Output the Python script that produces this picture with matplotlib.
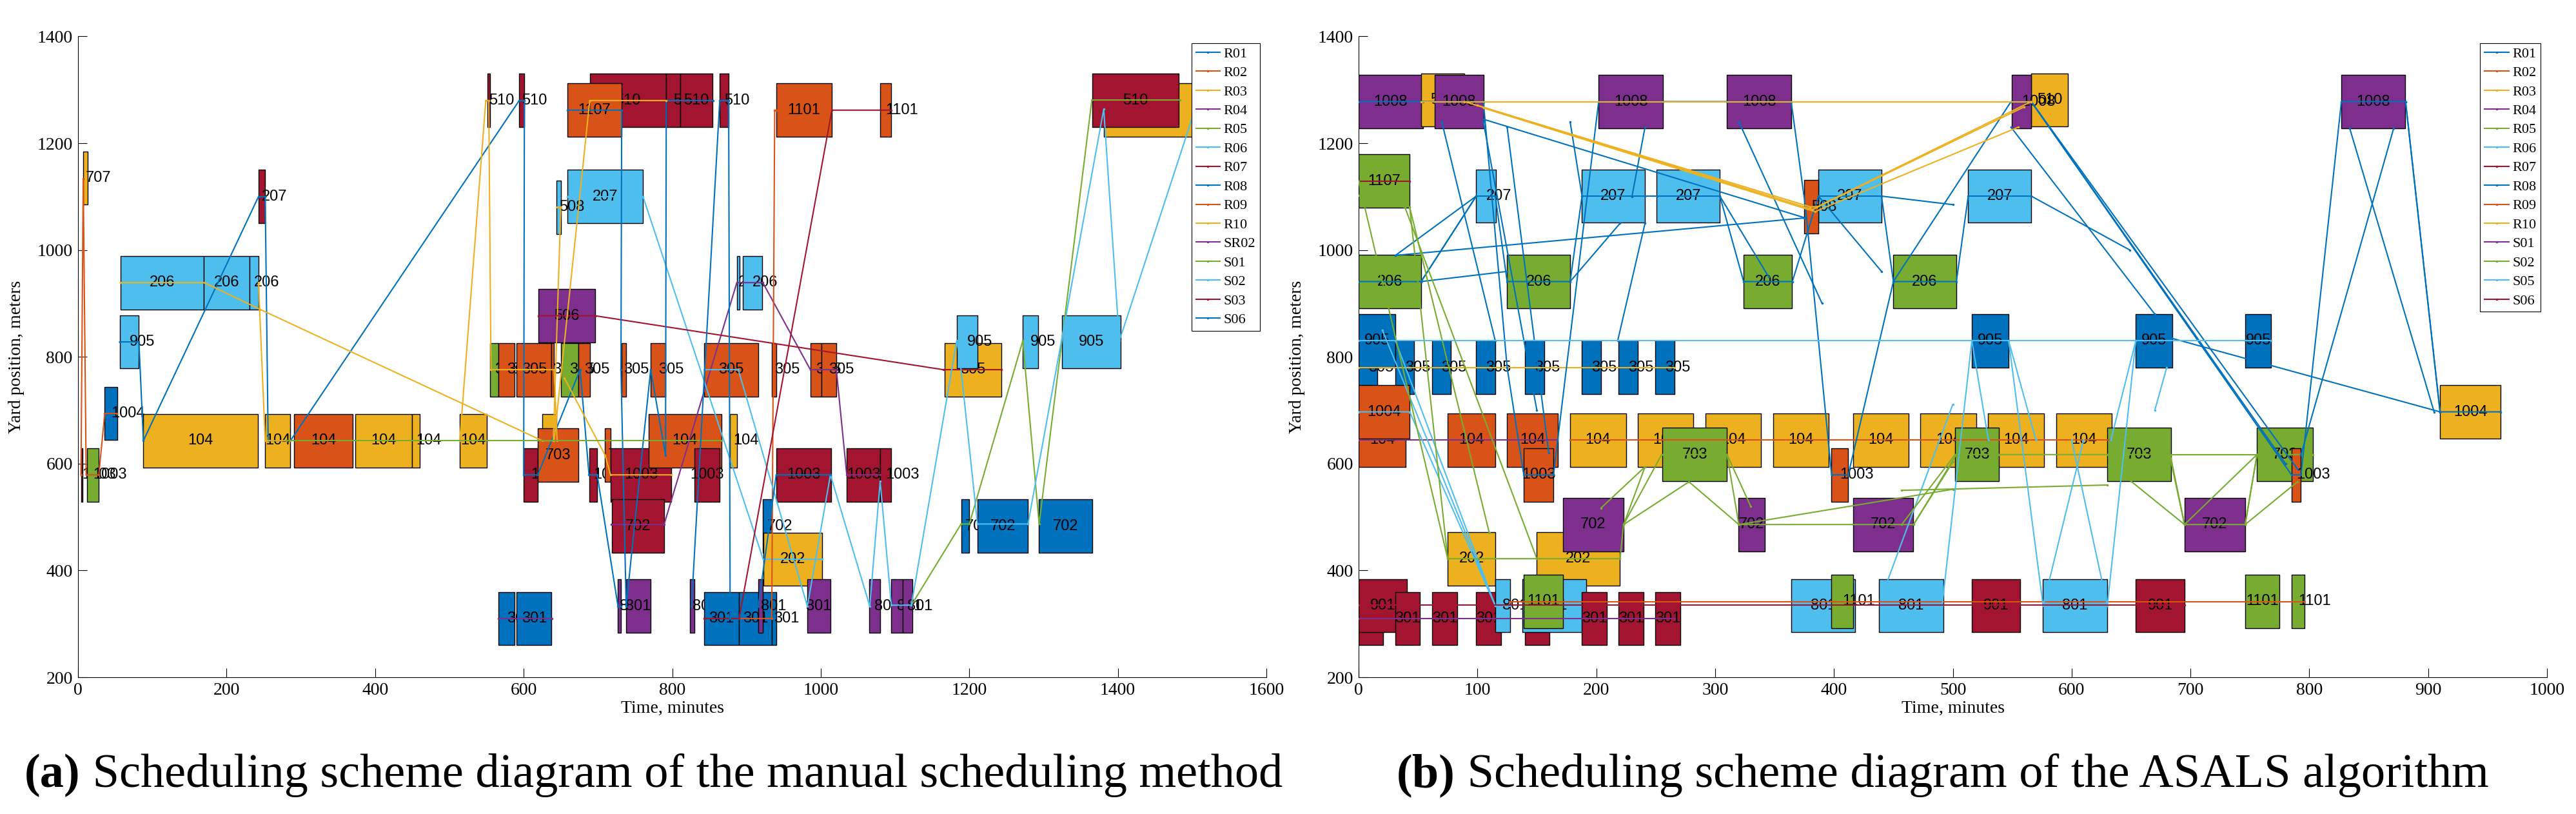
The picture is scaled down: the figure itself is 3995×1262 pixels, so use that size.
import matplotlib
matplotlib.use('Agg')
import matplotlib.pyplot as plt
from matplotlib.lines import Line2D

plt.rcParams['font.family'] = ['Liberation Serif', 'DejaVu Serif']

COLOURS = ['#0072BD', '#D95319', '#EDB120', '#7E2F8E', '#77AC30', '#4DBEEE', '#A2142F']

# ---------------- (a) manual scheduling ----------------
left_levels = {'510': 1280, '1107': 1262, '1101': 1262, '707': 1135, '207': 1100,
               '508': 1080, '206': 939, '506': 877, '905': 828, '305': 776,
               '1004': 694, '104': 643, '703': 616, '1003': 579, '702': 483,
               '202': 421, '801': 333, '301': 310}

left_track = ['707', '1003', '1003', '1004', '905', '206', '206', '206', '207',
              '104', '104', '104', '104', '104', '104', '510', '305', '305', '301',
              '301', '305', '305', '510', '1003', '104', '703', '506', '305',
              '305', '510', '510', '510', '510', '1107', '207', '508', '1003', '703', '1003',
              '702', '305', '801', '801', '104', '305', '801', '1003', '305', '301',
              '301', '301', '104', '206', '206', '801', '702', '202', '305', '1003',
              '1101', '801', '305', '305', '1003', '1003', '801', '1101', '801', '801',
              '305', '905', '702', '702', '905', '702', '905', '1101', '510']
left_start = [7, 4.5, 12, 36, 56, 57.5, 169.6, 231, 243,
              88, 252, 291, 373, 450, 514, 551, 555, 566, 566,
              590.7, 590.6, 637.5, 594, 600, 625, 619, 620, 650,
              674, 689, 792, 811, 864, 659, 659, 644.6, 688.7, 709.6, 717,
              719, 731.5, 727, 738, 768, 771, 824, 829.6, 843, 843,
              890, 934, 877.6, 887, 895, 916, 921.8, 922.5, 934, 940,
              940.5, 982, 986.5, 1000.7, 1035, 1080, 1065, 1080, 1094.5, 1110,
              1167, 1183, 1189, 1211, 1271.6, 1293.5, 1324.7, 1381, 1365.5]
left_end = [13, 6.5, 28, 53, 82, 169.6, 231, 243, 252,
            242, 286, 370, 450, 460, 550, 555, 566, 588, 588,
            637.6, 637.5, 641, 601, 619, 644, 674, 696.5, 674,
            689, 792, 811, 854.5, 876, 732, 760.7, 650.4, 698.7, 717, 799,
            789, 738, 731, 771, 866, 791, 830, 864, 916, 890,
            934, 940, 887, 891, 921.5, 922, 934, 1002, 940.5, 1013.6,
            1014.5, 1013, 1000.7, 1021, 1080, 1095, 1080, 1095, 1110, 1123,
            1243, 1211.5, 1200, 1279, 1293, 1365.5, 1403.6, 1504, 1481.6]
left_colour = [2, 6, 4, 0, 5, 5, 5, 5, 6,
               2, 2, 1, 2, 2, 2, 6, 4, 1, 0,
               0, 1, 1, 6, 6, 2, 1, 3, 4,
               1, 6, 6, 6, 6, 1, 5, 5, 6, 1, 6,
               6, 1, 3, 3, 1, 1, 3, 6, 1, 0,
               0, 0, 2, 5, 5, 3, 0, 2, 1, 6,
               1, 3, 1, 1, 6, 6, 3, 1, 3, 3,
               2, 5, 0, 0, 5, 0, 5, 2, 6]

left_names = ['R01', 'R02', 'R03', 'R04', 'R05', 'R06', 'R07', 'R08', 'R09', 'R10',
              'SR02', 'S01', 'S02', 'S03', 'S06']
left_runs = {
    'R01': [[(56, 828), (82, 828), (88, 643), (243, 1100), (252, 1100), (256, 643), (286, 643),
             (594, 1280), (601, 1280), (600, 579), (619, 579), (676, 776), (688, 579),
             (699, 579), (727, 333), (731, 333)]],
    'R02': [[(4, 579), (7, 1134), (11, 579), (28, 579), (36, 694), (52, 694)]],
    'R03': [[(57, 939), (170, 939), (245, 889), (625, 643), (641, 643)],
            [(645, 1080), (650, 1080), (640, 643)]],
    'R04': [[(718, 486), (789, 486), (887, 939), (922, 939), (986, 776), (1021, 776),
             (1035, 579), (1080, 579)]],
    'R05': [[(1122, 335), (1189, 487), (1200, 487), (1272, 830), (1294, 487), (1365, 1281),
             (1484, 1281)]],
    'R06': [[(659, 1100), (760.7, 1100), (922.5, 421), (1002, 421)]],
    'R07': [[(620, 877), (696, 877), (1165, 776), (1243, 776)]],
    'R08': [[(659, 1262), (732, 1262), (731, 776), (738, 333), (771, 776), (791, 616),
             (792, 1280), (855, 1280)]],
    'R09': [[(890, 310), (934, 310), (938, 1262), (940, 1262)]],
    'R10': [[(243, 939), (252, 643), (286, 643)],
            [(514, 643), (549, 1280), (553, 1280), (556, 776), (641, 776), (645, 643)],
            [(641, 643), (689, 1280), (792, 1280)],
            [(655, 760), (709.6, 616), (717, 579), (799, 579)]],
    'SR02': [[(566, 310), (638, 310)]],
    'S01': [[(280, 643), (866, 643)]],
    'S02': [[(843, 776), (889, 776), (982, 333), (1013, 579), (1066, 333), (1080, 567),
             (1095, 335), (1122, 335), (1183, 830), (1187, 800), (1211, 487), (1279, 487),
             (1381, 1264), (1402, 830), (1504, 1264)]],
    'S03': [[(843, 310), (890, 310), (1015, 1262), (1095, 1262)]],
    'S06': [[(826, 333), (864, 1280), (876, 1280), (878, 310)],
            [(916, 333), (940, 579), (1013, 579)]],
}

# ---------------- (b) ASALS ----------------
right_levels = {'1008': 1278, '510': 1281, '1107': 1129, '207': 1101, '508': 1081,
                '206': 941, '905': 830, '305': 780, '1004': 697, '104': 644, '703': 617,
                '1003': 579, '702': 486, '202': 422, '801': 334, '901': 334, '1101': 342,
                '301': 310}

right_track = ['1008', '510', '1008', '1008', '1008', '510', '1008', '1008',
               '1107', '207', '207', '207', '207', '508', '207',
               '206', '206', '206', '206',
               '305', '905', '305', '305', '305', '305', '305', '305', '305',
               '905', '905', '905',
               '104', '1004', '104', '104', '104', '104', '104', '104', '104', '104', '104', '104',
               '703', '703', '703', '703', '1003', '1003', '1003',
               '202', '202', '702', '702', '702', '702', '1004',
               '301', '901', '301', '301', '301', '801', '301', '801', '1101', '301', '301', '301',
               '801', '1101', '801', '901', '801', '901', '1101', '1101']
right_start = [0, 52.6, 64, 202, 310, 566, 549.5, 826.9,
               0, 99, 187.7, 250.8, 386.6, 374.8, 512.9,
               0, 125, 324, 449.7,
               0, 0, 31, 61.8, 99, 140, 187.7, 218.6, 249.8,
               516, 654, 746,
               0, 0, 75, 125, 178, 235, 292, 349, 416, 472.7, 529.5, 587,
               255.8, 502, 630, 756, 139, 397.8, 785,
               75, 150, 172, 319.5, 416, 695, 910,
               0, 0, 31, 61.8, 99, 115, 140, 138, 139, 187.7, 218.6, 249.8,
               364, 397.8, 438, 516, 575.8, 654, 746, 785]
right_end = [54, 89, 105, 256, 364, 596.8, 566, 880.8,
             43, 115.4, 241, 304, 440, 386.6, 566,
             52.6, 178, 364.6, 503,
             16, 31, 46.7, 77.6, 115, 156, 204, 235, 266,
             547, 684.7, 768,
             39.8, 43, 115, 167.7, 225, 281.7, 338.6, 395.5, 463, 519.8, 577, 633.7,
             310, 539, 683.6, 803, 164, 412, 793,
             115, 220, 223, 342, 466.8, 746, 961,
             20.7, 40.8, 51.6, 83, 120, 127.5, 160.7, 191.6, 172, 209, 240, 271,
             418, 416, 492, 556.6, 630, 695, 774.8, 796]
right_colour = [3, 2, 3, 3, 3, 2, 3, 3,
                4, 5, 5, 5, 5, 1, 5,
                4, 4, 4, 4,
                0, 0, 0, 0, 0, 0, 0, 0, 0,
                0, 0, 0,
                1, 1, 1, 1, 2, 2, 2, 2, 2, 2, 2, 2,
                4, 4, 4, 4, 1, 1, 1,
                2, 2, 3, 3, 3, 3, 2,
                6, 6, 6, 6, 6, 5, 6, 5, 4, 6, 6, 6,
                5, 4, 5, 6, 5, 6, 4, 4]

right_names = ['R01', 'R02', 'R03', 'R04', 'R05', 'R06', 'R07', 'R08', 'R09', 'R10',
               'S01', 'S02', 'S05', 'S06']
right_runs = {
    'R01': [[(0, 941), (52.6, 941), (99, 1101), (115, 1101), (125, 941), (178, 941),
             (188, 1101), (241, 1101), (251, 1101), (304, 1101), (324, 941), (365, 941),
             (387, 1101), (440, 1101), (450, 941), (503, 941), (513, 1101), (566, 1101)],
            [(31, 990), (375, 1060)], [(52.6, 941), (125, 960)],
            [(52.6, 941), (99, 1101)], [(31, 990), (99, 1101)],
            [(70, 1240), (115, 830)], [(105, 1240), (150, 700)], [(125, 1230), (160, 620)],
            [(188, 1101), (178, 1240)], [(241, 1230), (230, 1100)],
            [(178, 941), (220, 1050)], [(241, 1050), (218, 830)],
            [(304, 1101), (345, 950)], [(320, 1240), (390, 900)], [(387, 1101), (440, 960)],
            [(566, 1101), (649, 1000)], [(440, 1101), (500, 1085)]],
    'R02': [[(178, 644), (633, 644)]],
    'R03': [[(0, 780), (266, 780)]],
    'R04': [[(0, 644), (167, 644)]],
    'R05': [[(0, 1102), (39, 1080), (150, 422), (220, 422), (223, 486), (255, 617), (310, 617),
             (320, 486), (467, 486), (503, 617), (539, 617), (630, 617), (683, 617), (695, 486),
             (746, 486), (756, 617), (803, 617)]],
    'R06': [[(0, 697), (43, 697), (115, 334), (127, 334)], [(31, 830), (115, 334)],
            [(20, 850), (115, 334)], [(440, 350), (500, 711)]],
    'R07': [[(0, 1129), (43, 1129)]],
    'R08': [[(0, 1278), (54, 1278), (64, 1278), (105, 1278), (125, 780), (139, 579), (164, 579),
             (202, 1278), (256, 1278), (310, 1278), (364, 1278), (376, 1081), (398, 579),
             (412, 579), (450, 941), (549, 1278), (566, 1278), (785, 579), (793, 579),
             (827, 1278), (881, 1278), (910, 697), (961, 697)],
            [(105, 1245), (376, 1060)], [(566, 1278), (780, 600)], [(566, 1278), (790, 590)],
            [(549, 1230), (670, 880)], [(684, 835), (910, 697)],
            [(834, 1228), (905, 697)], [(871, 1228), (793, 617)], [(881, 1278), (910, 697)]],
    'R09': [[(127, 341), (796, 341)]],
    'R10': [[(52.6, 1278), (566, 1278)],
            [(89, 1278), (380, 1081), (386, 1081), (566, 1278)],
            [(100, 1271), (382, 1076), (560, 1268)],
            [(105, 1266), (384, 1072), (555, 1230)]],
    'S01': [[(0, 310), (266, 310)]],
    'S02': [[(43, 1080), (75, 422), (150, 422)], [(0, 1129), (75, 422)],
            [(43, 1080), (110, 470)], [(223, 486), (241, 594)], [(204, 517), (241, 594)],
            [(223, 486), (278, 566)], [(278, 566), (320, 486)], [(310, 617), (330, 520)],
            [(320, 486), (500, 552)], [(467, 486), (500, 603)], [(457, 486), (502, 617)],
            [(457, 550), (630, 560)], [(683, 617), (756, 617)], [(683, 610), (695, 486)],
            [(650, 567), (695, 486)], [(695, 486), (756, 617)], [(746, 486), (756, 617)],
            [(746, 486), (790, 566)]],
    'S05': [[(0, 830), (768, 830)],
            [(491, 334), (516, 830)], [(516, 830), (530, 644)], [(547, 830), (576, 334)],
            [(547, 830), (570, 644)], [(654, 830), (630, 334)], [(654, 830), (633, 644)],
            [(576, 334), (610, 644)], [(630, 334), (600, 644)], [(680, 780), (670, 700)]],
    'S06': [[(0, 335), (695, 335)]],
}


def draw_panel(ax, levels, track, start, end, colour, names, runs, xmax, xstep, narrow):
    bottoms = [levels[k] - 50 for k in track]
    widths = [e - s for s, e in zip(start, end)]
    bars = ax.bar(start, [100] * len(track), width=widths, bottom=bottoms, align='edge',
                  color=[COLOURS[c] for c in colour], edgecolor='black', linewidth=1.0)
    # each box hides the labels of the boxes drawn before it
    for i, (patch, k, s, e) in enumerate(zip(bars.patches, track, start, end)):
        patch.set_zorder(2 + i * 1e-3)
        mid = (s + e) / 2
        ax.text(mid, levels[k], k, ha='left' if e - s < narrow else 'center', va='center',
                fontsize=17, family=['Liberation Sans', 'DejaVu Sans'],
                zorder=2 + i * 1e-3 + 5e-4)
    handles = []
    for i, name in enumerate(names):
        col = COLOURS[i % 7]
        for run in runs[name]:
            ax.plot([p[0] for p in run], [p[1] for p in run], color=col, lw=1.5,
                    marker='.', ms=3, zorder=3)
        handles.append(Line2D([], [], color=col, lw=1.5, marker='.', ms=3))
    ax.set_xlim(0, xmax)
    ax.set_ylim(200, 1400)
    ax.set_xticks(range(0, xmax + 1, xstep))
    ax.set_yticks(range(200, 1401, 200))
    ax.tick_params(direction='in', length=10, width=0.8, labelsize=20, pad=6)
    for side in ['top', 'right']:
        ax.spines[side].set_visible(False)
    for side in ['left', 'bottom']:
        ax.spines[side].set_linewidth(0.8)
    ax.set_xlabel('Time, minutes', fontsize=20, labelpad=2)
    ax.set_ylabel('Yard position, meters', fontsize=20)
    ax.yaxis.set_label_coords(-0.045, 0.5)
    leg = ax.legend(handles, names, loc='upper right', fontsize=16, frameon=True,
                    fancybox=False, edgecolor='black', framealpha=1, labelspacing=0.4,
                    handlelength=1.7, handletextpad=0.25, borderpad=0.3, borderaxespad=0.45)
    leg.get_frame().set_linewidth(0.8)
    leg.set_zorder(10)


W, H = 3995, 1262
fig = plt.figure(figsize=(W / 100, H / 100), dpi=100)
ax1 = fig.add_axes([121 / W, 1 - 1050 / H, 1843 / W, 993.5 / H])
ax2 = fig.add_axes([2107 / W, 1 - 1050 / H, 1843 / W, 993.5 / H])

draw_panel(ax1, left_levels, left_track, left_start, left_end, left_colour,
           left_names, left_runs, 1600, 200, 30)
draw_panel(ax2, right_levels, right_track, right_start, right_end, right_colour,
           right_names, right_runs, 1000, 100, 20)

# captions, sized to the reference width
fig.canvas.draw()
rend = fig.canvas.get_renderer()
yc = 1 - 1202 / H
fs = 40


def caption(x0, tag, rest, size):
    t1 = fig.text(x0 / W, yc, tag, weight='bold', fontsize=size, va='center')
    w1 = t1.get_window_extent(rend).width
    t2 = fig.text((x0 + w1) / W, yc, ' ' + rest, fontsize=size, va='center')
    return t1, t2, w1 + t2.get_window_extent(rend).width


a1, a2, wa = caption(38, '(a)', 'Scheduling scheme diagram of the manual scheduling method', fs)
fs = fs * (1987 - 38) / wa
a1.remove()
a2.remove()
caption(38, '(a)', 'Scheduling scheme diagram of the manual scheduling method', fs)
caption(2166, '(b)', 'Scheduling scheme diagram of the ASALS algorithm', fs)

fig.savefig('out.png', dpi=100)
